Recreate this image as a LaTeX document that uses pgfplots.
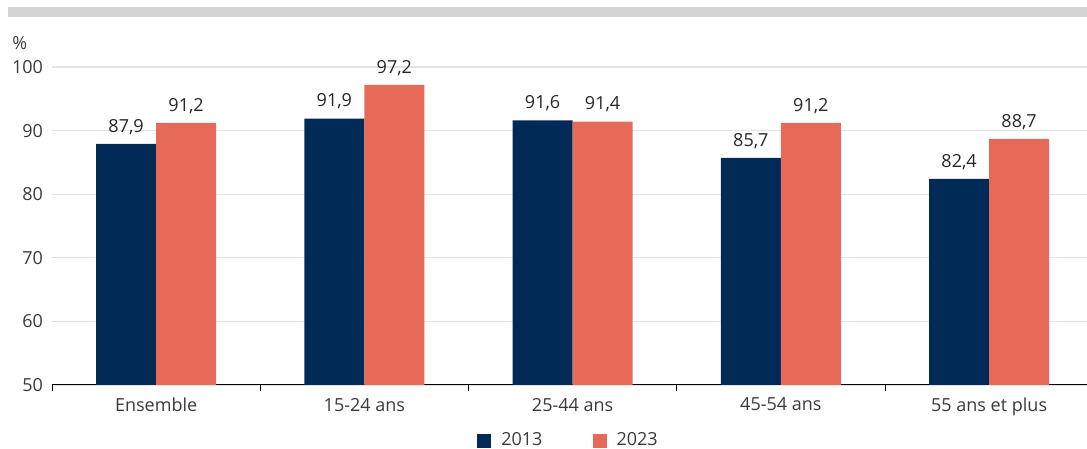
\documentclass[border=0pt]{standalone}
\usepackage{fontspec}
\setmainfont{Open Sans}
\usepackage{pgfplots}
\pgfplotsset{compat=1.18}
\definecolor{navy}{HTML}{012A56}
\definecolor{coral}{HTML}{E76A58}
\definecolor{gridgray}{HTML}{E3E3E3}
\definecolor{bandgray}{HTML}{D4D4D4}
\definecolor{txt}{HTML}{3A3A3A}
\begin{document}
\begin{tikzpicture}
\useasboundingbox (0,0) rectangle (543.5pt,224.5pt);
\fill[bandgray] (4pt,216pt) rectangle (543.5pt,221pt);
\node[anchor=west, font=\fontsize{9pt}{10pt}\selectfont, text=txt, inner sep=0pt] at (6pt,203pt) {\%};
\begin{axis}[
  at={(26pt,32pt)}, anchor=south west,
  scale only axis, width=517.5pt, height=159pt,
  ymin=50, ymax=100,
  xmin=-0.5, xmax=4.47,
  ybar=0pt, bar width=30pt,
  axis x line*=bottom,
  axis y line*=left,
  y axis line style={draw=none},
  x axis line style={black, line width=0.5pt, -},
  ytick={50,60,70,80,90,100},
  ytick style={draw=none},
  ymajorgrids, grid style={gridgray, line width=0.6pt},
  xtick={-0.5,0.5,1.5,2.5,3.5},
  xticklabels={},
  xtick style={black, line width=0.5pt},
  major tick length=3pt,
  xtick align=outside,
  extra x ticks={0,1,2,3,4},
  extra x tick labels={Ensemble,15-24 ans,25-44 ans,45-54 ans,55 ans et plus},
  extra x tick style={major tick length=0pt, xticklabel style={yshift=-3pt}},
  tick label style={font=\fontsize{9pt}{10pt}\selectfont, text=txt},
  /pgf/number format/assume math mode=true,
  yticklabel style={xshift=-1pt},
  nodes near coords,
  nodes near coords style={font=\fontsize{9pt}{10pt}\selectfont, text=black!85, inner sep=2pt, yshift=2.5pt,
    /pgf/number format/.cd, fixed, fixed zerofill, precision=1, use comma},
  legend columns=2,
  legend style={draw=none, fill=none, at={(0.5,-0.175)}, anchor=center,
    font=\fontsize{9pt}{10pt}\selectfont, text=txt,
    /tikz/every odd column/.append style={column sep=3pt},
    /tikz/every even column/.append style={column sep=23pt}},
  legend image code/.code={\fill[#1,draw=none] (0pt,-3.5pt) rectangle (7pt,3.5pt);},
  clip=false,
]
\addplot[fill=navy, draw=none] coordinates {(0,87.9) (1,91.9) (2,91.6) (3,85.7) (4,82.4)};
\addplot[fill=coral, draw=none] coordinates {(0,91.2) (1,97.2) (2,91.4) (3,91.2) (4,88.7)};
\legend{2013,2023}
\end{axis}
\end{tikzpicture}
\end{document}
